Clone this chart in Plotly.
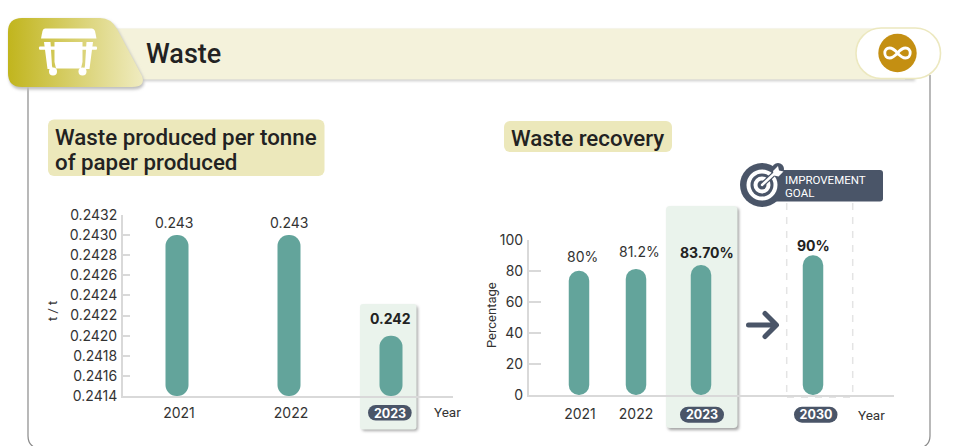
import base64
import plotly.graph_objects as go

W, H = 955, 446

# ---- data ----
waste_years = ["2021", "2022", "2023"]
waste_values = [0.2430, 0.2430, 0.2420]
waste_labels = ["0.243", "0.243", "0.242"]
waste_ticks = [0.2414, 0.2416, 0.2418, 0.2420, 0.2422, 0.2424, 0.2426, 0.2428, 0.2430, 0.2432]

recovery_years = ["2021", "2022", "2023", "2030"]
recovery_values = [80, 81.2, 83.7, 90]
recovery_labels = ["80%", "81.2%", "83.70%", "90%"]
recovery_ticks = [0, 20, 40, 60, 80, 100]

# ---- layout constants (pixel positions on the pixel-scaled x axes) ----
waste_bar_x = [177, 289, 391]
waste_tick_x = [179, 291, 390]
waste_label_x = [174, 289, 390]
waste_label_shift = [13, 13, 17]
recovery_bar_x = [579, 636, 701, 813]
recovery_tick_x = [580, 636, 702, 816]
recovery_label_x = [582, 639, 707, 813]
recovery_label_shift = [14, 17, 13, 10]
highlight_w = {"2023", "2030"}

TEAL = "#63a49b"
SLATE = "#4a5568"
TEXT = "#333333"
HEAD = "#222222"
SANS = "Inter, sans-serif"
HEADF = "Roboto, sans-serif"

svg = f'''<svg xmlns="http://www.w3.org/2000/svg" width="{W}" height="{H}" viewBox="0 0 {W} {H}">
<defs>
<linearGradient id="g" x1="8" x2="142" y1="0" y2="0" gradientUnits="userSpaceOnUse">
<stop offset="0" stop-color="#c1b51d"/><stop offset="1" stop-color="#efebbf"/></linearGradient>
<filter id="s" x="-20%" y="-20%" width="140%" height="140%"><feGaussianBlur stdDeviation="1.4"/></filter>
</defs>
<path d="M28 80V436Q28 445 36 448H921Q930 445 930 436V75" fill="none" stroke="#8a8a8a" stroke-width="1.2"/>
<rect x="115" y="30" width="800" height="51" fill="#c9c9c9" filter="url(#s)"/>
<rect x="115" y="28.5" width="790" height="51" fill="#f4f2db"/>
<path d="M8 32Q8 18 22 18H100Q111 18 117 29L142 76Q146 88 132 88H22Q8 88 8 74Z" fill="#bdbdbd" transform="translate(1 1.5)" filter="url(#s)"/>
<path d="M8 32Q8 18 22 18H100Q111 18 117 29L142 76Q146 87 132 87H22Q8 87 8 73Z" fill="url(#g)"/>
<g fill="#ffffff">
<path d="M45 28.5H92Q94 28.5 95 31L96.5 38.5H41L42.5 31Q43 28.5 45 28.5Z"/>
<rect x="39" y="46.5" width="58" height="3.2" rx="1"/>
<path d="M44 42H50.5L52 66L53 69H47.5Z"/>
<path d="M86.5 42H93L89.5 69H84L85 66Z"/>
<path d="M54.5 42H82.5V62L81 68.5H56L54.5 62Z"/>
<circle cx="53" cy="71.5" r="4"/><circle cx="82.5" cy="71.5" r="4"/>
</g>
<rect x="856" y="28" width="84.5" height="50.5" rx="25" fill="#ffffff" stroke="#ece8bf" stroke-width="1.6"/>
<circle cx="897.5" cy="53" r="19.2" fill="#c48f12"/>
<path d="M897.5 53C894 49 892 48 889.5 48C886.5 48 884.8 50.3 884.8 53C884.8 55.7 886.5 58 889.5 58C892 58 894 57 897.5 53C901 49 903 48 905.5 48C908.5 48 910.2 50.3 910.2 53C910.2 55.7 908.5 58 905.5 58C903 58 901 57 897.5 53Z" fill="none" stroke="#ffffff" stroke-width="2.8"/>
<rect x="48" y="119.5" width="276.5" height="56.5" rx="6" fill="#ece8bb"/>
<rect x="504" y="121" width="168" height="31" rx="6" fill="#ece8bb"/>
<rect x="362" y="306" width="56" height="125" rx="3" fill="#a8a8a8" filter="url(#s)"/>
<rect x="360" y="304" width="56.5" height="125.5" rx="3" fill="#eaf3ec"/>
<rect x="668" y="208" width="71" height="222" rx="3" fill="#a0a0a0" filter="url(#s)"/>
<rect x="666" y="206" width="71.5" height="222" rx="4" fill="#eaf3ec"/>
<g stroke="#e4e4e4" stroke-width="1.5" stroke-dasharray="7 7" fill="none">
<path d="M786.7 203V396"/><path d="M852.7 203V396"/><path d="M787 397.3H852"/>
</g>
<path d="M748.5 325H775M765 313.5L776.5 325L765 336.5" fill="none" stroke="{SLATE}" stroke-width="5" stroke-linecap="round" stroke-linejoin="round"/>
<rect x="768" y="170" width="115" height="31.5" rx="3" fill="{SLATE}"/>
<circle cx="762" cy="185" r="22" fill="{SLATE}"/>
<circle cx="778" cy="169" r="6" fill="{SLATE}"/>
<circle cx="762" cy="185" r="15.5" fill="#ffffff"/>
<circle cx="762" cy="185" r="11.5" fill="{SLATE}"/>
<circle cx="762" cy="185" r="8.5" fill="#ffffff"/>
<circle cx="762" cy="185" r="4.5" fill="{SLATE}"/>
<path d="M762 185L776 172" stroke="{SLATE}" stroke-width="5"/>
<path d="M762 185L776 172" stroke="#ffffff" stroke-width="2.4" stroke-linecap="round"/>
<path d="M773 171L778 166L779 170.5L783.5 171.5L778.5 176.5L774 175.5Z" fill="#ffffff"/>
<g fill="{SLATE}">
<rect x="368" y="405" width="43.7" height="15.5" rx="7.7"/>
<rect x="680" y="406.7" width="44" height="16" rx="8"/>
<rect x="794" y="406.7" width="43.5" height="16" rx="8"/>
</g>
</svg>'''
uri = "data:image/svg+xml;base64," + base64.b64encode(svg.encode()).decode()


def bars(xs, values, base, width, radius, xa, ya):
    return go.Bar(x=xs, y=[v - base for v in values], base=[base] * len(values), width=width,
                  marker=dict(color=TEAL, cornerradius=radius, line_width=0),
                  xaxis=xa, yaxis=ya, showlegend=False, hoverinfo="skip")


fig = go.Figure([
    bars(waste_bar_x, waste_values, waste_ticks[0], 23, 11, "x", "y"),
    bars(recovery_bar_x, recovery_values, recovery_ticks[0], 20.5, 10, "x2", "y2"),
])


def tick_text(years, highlighted):
    return [f'<span style="color:#ffffff;font-size:12.5px"><b>{y}</b></span>' if y in highlighted else y
            for y in years]


axis_line = dict(showline=True, linecolor="#d9d9d9", linewidth=2, showgrid=False, zeroline=False)
tick_font = dict(family=SANS, size=14, color=TEXT)

fig.update_layout(
    width=W, height=H, autosize=False, margin=dict(l=0, r=0, t=0, b=0, pad=0, autoexpand=False),
    paper_bgcolor="#ffffff", plot_bgcolor="rgba(0,0,0,0)", barmode="overlay", showlegend=False,
    xaxis=dict(domain=[123 / W, 453 / W], range=[123, 453], tickvals=waste_tick_x,
               ticktext=tick_text(waste_years, {"2023"}), ticks="", tickfont=tick_font,
               ticklabelstandoff=3, anchor="y", **axis_line),
    yaxis=dict(domain=[1 - 396 / H, 1 - 215 / H], range=[waste_ticks[0], waste_ticks[-1]],
               tickvals=waste_ticks, tickformat=".4f", ticks="inside", ticklen=7, tickwidth=2,
               tickcolor="#d9d9d9", tickfont=tick_font, ticklabelstandoff=1, anchor="x", **axis_line),
    xaxis2=dict(domain=[529 / W, 894 / W], range=[529, 894], tickvals=recovery_tick_x,
                ticktext=tick_text(recovery_years, {"2023", "2030"}), ticks="", tickfont=tick_font,
                ticklabelstandoff=5, anchor="y2", **axis_line),
    yaxis2=dict(domain=[1 - 395 / H, 1 - 239.7 / H], range=[0, 100], tickvals=recovery_ticks,
                ticks="inside", ticklen=12, tickwidth=2, tickcolor="#d9d9d9", tickfont=tick_font,
                ticklabelstandoff=1, anchor="x2", **axis_line),
    images=[dict(source=uri, xref="paper", yref="paper", x=0, y=1, sizex=1, sizey=1,
                 xanchor="left", yanchor="top", sizing="stretch", layer="below")],
)


def px_note(x, y, text, size, family=SANS, color=TEXT, weight=400, anchor="left", angle=0):
    fig.add_annotation(xref="paper", yref="paper", x=x / W, y=1 - y / H, text=text, showarrow=False,
                       xanchor=anchor, yanchor="middle", textangle=angle, align="left",
                       borderpad=0, borderwidth=0,
                       font=dict(family=family, size=size, color=color, weight=weight))


px_note(146, 54, "Waste", 27, HEADF, HEAD, 500)
px_note(55, 137, "Waste produced per tonne", 22.3, HEADF, HEAD, 500)
px_note(55, 162, "of paper produced", 22.3, HEADF, HEAD, 500)
px_note(511, 138, "Waste recovery", 22.3, HEADF, HEAD, 500)
px_note(785, 179.5, "IMPROVEMENT", 11.5, HEADF, "#ffffff")
px_note(785, 193, "GOAL", 11.5, HEADF, "#ffffff")
px_note(434, 412, "Year", 13.5, HEADF, TEXT)
px_note(858, 415, "Year", 13.5, HEADF, TEXT)
px_note(52, 311, "t / t", 13, HEADF, TEXT, anchor="center", angle=-90)
px_note(491, 315, "Percentage", 13, HEADF, TEXT, anchor="center", angle=-90)

for x, v, t, s, yr in zip(waste_label_x, waste_values, waste_labels, waste_label_shift, waste_years):
    bold = yr == "2023"
    fig.add_annotation(xref="x", yref="y", x=x, y=v, text=t, showarrow=False, yshift=s,
                       font=dict(family=SANS, size=14, color=HEAD if bold else TEXT, weight=700 if bold else 400))
for x, v, t, s, yr in zip(recovery_label_x, recovery_values, recovery_labels, recovery_label_shift, recovery_years):
    bold = yr in highlight_w
    fig.add_annotation(xref="x2", yref="y2", x=x, y=v, text=t, showarrow=False, yshift=s,
                       font=dict(family=SANS, size=14, color=HEAD if bold else TEXT, weight=700 if bold else 400))

fig.write_html("out.html", config=dict(displayModeBar=False),
               post_script="document.body.style.margin='0';document.body.style.overflow='hidden';")
